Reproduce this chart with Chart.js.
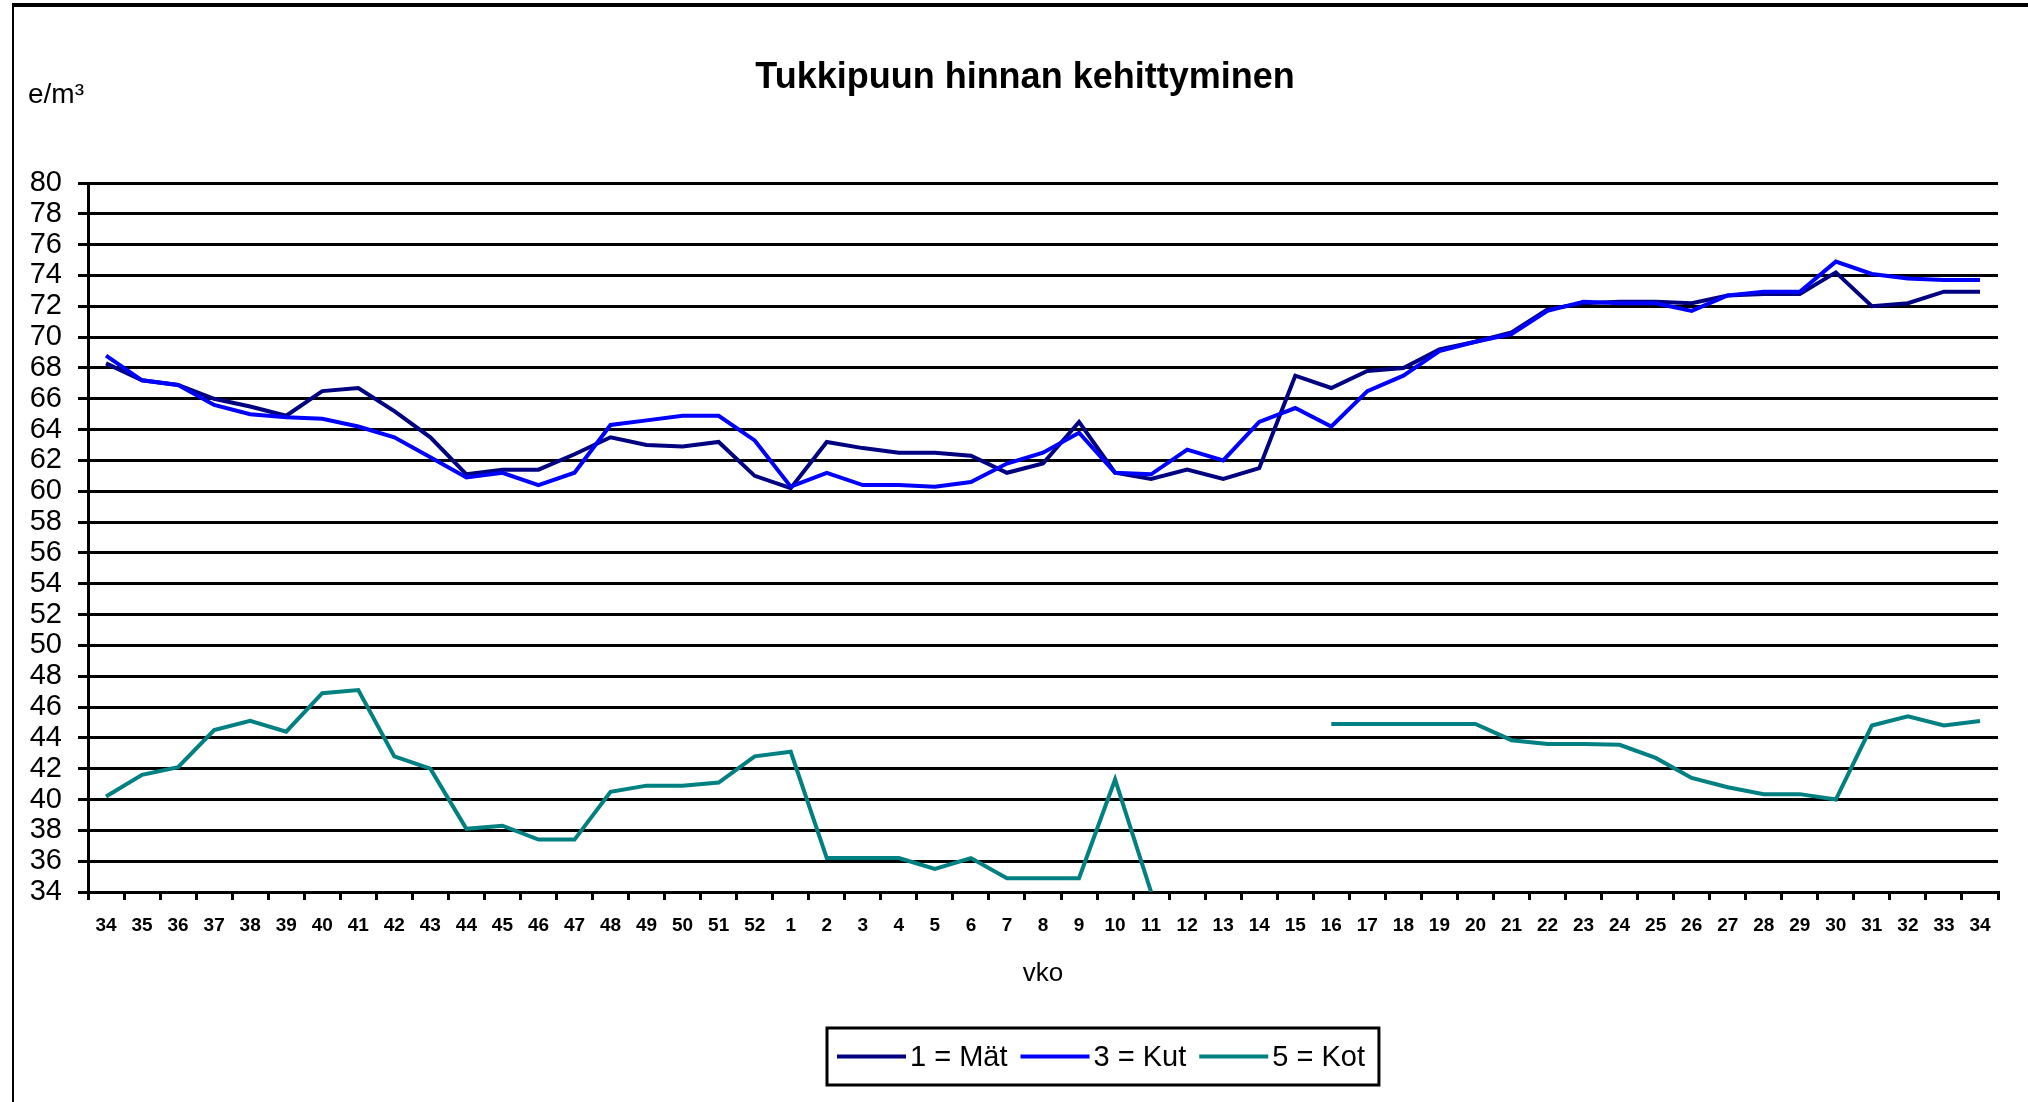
<!DOCTYPE html>
<html>
<head>
<meta charset="utf-8">
<script src="https://cdn.jsdelivr.net/npm/chart.js@4.4.1/dist/chart.umd.min.js"></script>
<style>
  html, body { margin: 0; padding: 0; background: #fff; overflow: hidden; }
  #wrap { position: relative; width: 2028px; height: 1102px; }
  #chart { display: block; }
  #frame { position: absolute; left: 12px; top: 3px; width: 2030px; height: 1110px; border-top: 4px solid #000; border-left: 2px solid #000; pointer-events: none; }
</style>
</head>
<body>
<div id="wrap">
  <canvas id="chart" width="2028" height="1102"></canvas>
  <div id="frame"></div>
</div>
<script>
const weeks = ['34', '35', '36', '37', '38', '39', '40', '41', '42', '43', '44', '45', '46', '47', '48', '49', '50', '51', '52',
  '1', '2', '3', '4', '5', '6', '7', '8', '9', '10', '11', '12', '13', '14', '15', '16', '17', '18', '19', '20',
  '21', '22', '23', '24', '25', '26', '27', '28', '29', '30', '31', '32', '33', '34'];

// 1 = Mät
const mat = [68.3, 67.2, 66.9, 66.0, 65.5, 64.9, 66.5, 66.7, 65.2, 63.5,
  61.1, 61.4, 61.4, 62.4, 63.5, 63.0, 62.9, 63.2, 61.0, 60.2,
  63.2, 62.8, 62.5, 62.5, 62.3, 61.2, 61.8, 64.5, 61.2, 60.8,
  61.4, 60.8, 61.5, 67.5, 66.7, 67.8, 68.0, 69.2, 69.7, 70.3,
  71.8, 72.2, 72.3, 72.3, 72.2, 72.7, 72.8, 72.8, 74.2, 72.0,
  72.2, 72.95, 72.95];

// 3 = Kut
const kut = [68.8, 67.2, 66.9, 65.6, 65.0, 64.8, 64.7, 64.2, 63.5, 62.2,
  60.9, 61.2, 60.4, 61.2, 64.3, 64.6, 64.9, 64.9, 63.3, 60.3,
  61.2, 60.4, 60.4, 60.3, 60.6, 61.8, 62.5, 63.8, 61.2, 61.1,
  62.7, 62.0, 64.5, 65.4, 64.2, 66.5, 67.5, 69.1, 69.7, 70.2,
  71.7, 72.3, 72.2, 72.2, 71.7, 72.7, 72.95, 72.95, 74.9, 74.1,
  73.8, 73.7, 73.7];

// 5 = Kot
const kot = [40.2, 41.6, 42.1, 44.5, 45.1, 44.4, 46.9, 47.1, 42.8, 42.0,
  38.1, 38.3, 37.4, 37.4, 40.5, 40.9, 40.9, 41.1, 42.8, 43.1,
  36.2, 36.2, 36.2, 35.5, 36.2, 34.9, 34.9, 34.9, 41.3, 34.0,
  null, null, null, null, 44.9, 44.9, 44.9, 44.9, 44.9, 43.85,
  43.6, 43.6, 43.55, 42.7, 41.4, 40.8, 40.35, 40.35, 40.0, 44.8,
  45.4, 44.8, 45.1];

const color_mat = '#000080';
const color_kut = '#0000ff';
const color_kot = '#008080';
const fontFamily = '"Liberation Sans", Arial, sans-serif';

// chart title and the "e/m³" unit text above the y axis
const headings = {
    id: 'headings',
    afterDraw(chart) {
        const { ctx, chartArea } = chart;
        ctx.save();
        ctx.fillStyle = '#000';
        ctx.textBaseline = 'middle';
        ctx.textAlign = 'center';
        ctx.font = 'bold 36px ' + fontFamily;
        ctx.fillText('Tukkipuun hinnan kehittyminen', (chartArea.left + chartArea.right) / 2 - 18, chartArea.top - 105);
        ctx.textAlign = 'left';
        ctx.font = '28px ' + fontFamily;
        ctx.fillText('e/m\u00b3', chartArea.left - 60, chartArea.top - 88);
        ctx.restore();
    },
};

// boxed legend below the axis title, like the Excel one
const legendBox = {
    id: 'legendBox',
    afterDraw(chart) {
        const { ctx, chartArea } = chart;
        const lineLen = 69;
        const textGap = 4;
        const itemGap = 13;
        const padLeft = 10;
        const padRight = 14;
        ctx.save();
        ctx.font = '29px ' + fontFamily;
        const items = chart.data.datasets.map((ds) => ({ text: ds.label, color: ds.borderColor, width: ctx.measureText(ds.label).width }));
        let total = padLeft + padRight;
        items.forEach((it, i) => {
            total += lineLen + textGap + it.width + (i < items.length - 1 ? itemGap : 0);
        });
        const centerX = (chartArea.left + chartArea.right) / 2 + 60;
        const left = Math.round(centerX - total / 2);
        const top = chart.height - 74;
        const height = 57;
        ctx.lineWidth = 3;
        ctx.strokeStyle = '#000';
        ctx.strokeRect(left, top, total, height);
        const y = top + height / 2;
        let x = left + padLeft;
        ctx.textAlign = 'left';
        ctx.textBaseline = 'middle';
        ctx.fillStyle = '#000';
        items.forEach((it) => {
            ctx.strokeStyle = it.color;
            ctx.lineWidth = 4;
            ctx.beginPath();
            ctx.moveTo(x, y);
            ctx.lineTo(x + lineLen, y);
            ctx.stroke();
            x += lineLen + textGap;
            ctx.fillText(it.text, x, y + 1);
            x += it.width + itemGap;
        });
        ctx.restore();
    },
};

const ctx = document.getElementById('chart').getContext('2d');
const priceChart = new Chart(ctx, {
    type: 'line',
    data: {
        labels: weeks,
        datasets: [
            { label: '1 = M\u00e4t', data: mat, borderColor: color_mat, backgroundColor: color_mat, order: 3 },
            { label: '3 = Kut', data: kut, borderColor: color_kut, backgroundColor: color_kut, order: 2 },
            { label: '5 = Kot', data: kot, borderColor: color_kot, backgroundColor: color_kot, order: 1 },
        ],
    },
    options: {
        responsive: false,
        animation: false,
        devicePixelRatio: 1,
        layout: { padding: { left: 0, right: 30, top: 183, bottom: 92 } },
        elements: {
            line: { borderWidth: 4, tension: 0, borderJoinStyle: 'miter' },
            point: { radius: 0, hoverRadius: 0 },
        },
        plugins: {
            legend: { display: false },
            tooltip: { enabled: false },
            title: { display: false },
        },
        scales: {
            x: {
                offset: true,
                grid: { drawOnChartArea: false, drawTicks: true, tickLength: 8, color: '#000', lineWidth: 3, offset: true },
                border: { display: true, color: '#000', width: 3 },
                ticks: { color: '#000', font: { family: fontFamily, size: 19, weight: 'bold' }, padding: 14, maxRotation: 0, autoSkip: false },
                title: { display: true, text: 'vko', color: '#000', font: { family: fontFamily, size: 26 }, padding: { top: 0, bottom: 21 } },
                afterFit: (axis) => { axis.height = 118; },
            },
            y: {
                min: 34,
                max: 80,
                ticks: { stepSize: 2, autoSkip: false, color: '#000', font: { family: fontFamily, size: 29, lineHeight: 1 }, padding: 16 },
                grid: { color: '#000', lineWidth: 3, tickLength: 10 },
                border: { display: true, color: '#000', width: 3 },
                afterFit: (axis) => { axis.width = 88; },
            },
        },
    },
    plugins: [headings, legendBox],
});
</script>
</body>
</html>
